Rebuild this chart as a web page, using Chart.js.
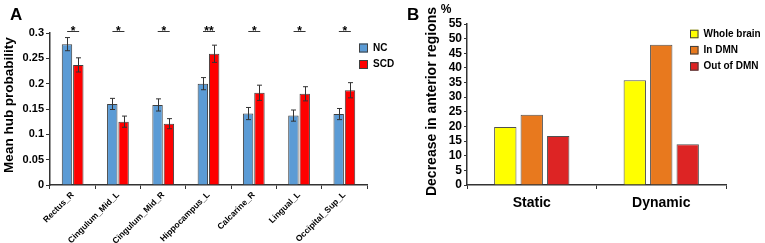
<!DOCTYPE html>
<html>
<head>
<meta charset="utf-8">
<script src="https://cdn.jsdelivr.net/npm/chart.js@4.4.0/dist/chart.umd.min.js"></script>
<style>
  html, body { margin: 0; padding: 0; background: #fff; }
  #wrap { position: relative; width: 765px; height: 243px; overflow: hidden; }
  #chartA { position: absolute; left: 0; top: 0; }
  #chartB { position: absolute; left: 390px; top: 0; }
</style>
</head>
<body>
<div id="wrap">
  <canvas id="chartA" width="400" height="243" style="width:400px;height:243px"></canvas>
  <canvas id="chartB" width="375" height="243" style="width:375px;height:243px"></canvas>
</div>
<script>
// Panel A data
const regions = ["Rectus_R", "Cingulum_Mid_L", "Cingulum_Mid_R", "Hippocampus_L", "Calcarine_R", "Lingual_L", "Occipital_Sup_L"];
const ncValues = [0.278, 0.160, 0.158, 0.200, 0.141, 0.137, 0.140];
const ncErrors = [0.013, 0.011, 0.012, 0.012, 0.012, 0.011, 0.011];
const scdValues = [0.237, 0.125, 0.121, 0.259, 0.182, 0.180, 0.187];
const scdErrors = [0.014, 0.011, 0.010, 0.017, 0.015, 0.014, 0.015];
const significance = ["*", "*", "*", "**", "*", "*", "*"];

// Panel B data
const periods = ["Static", "Dynamic"];
const wholeBrain = [19.8, 35.8];
const inDMN = [24.0, 47.9];
const outOfDMN = [16.7, 13.9];

const FONT = "'Liberation Sans', Arial, sans-serif";
Chart.defaults.font.family = FONT;
Chart.defaults.color = "#000";

// legend boxes, panel letter and axis titles
const legendPlugin = {
  id: "boxLegend",
  afterDraw(chart, args, opts) {
    const ctx = chart.ctx;
    ctx.save();
    ctx.font = "bold " + opts.size + "px " + FONT;
    ctx.textBaseline = "middle";
    opts.items.forEach((it, i) => {
      const cy = opts.y + i * opts.gap;
      ctx.fillStyle = it.color;
      ctx.fillRect(opts.x, cy - opts.box / 2, opts.box, opts.box);
      ctx.strokeStyle = "#404040";
      ctx.lineWidth = 1;
      ctx.strokeRect(opts.x + 0.5, cy - opts.box / 2 + 0.5, opts.box - 1, opts.box - 1);
      ctx.fillStyle = "#000";
      ctx.fillText(it.label, opts.x + opts.box + 5, cy);
    });
    ctx.font = "bold 17px " + FONT;
    ctx.textBaseline = "alphabetic";
    ctx.fillText(opts.panel, opts.panelX, opts.panelY);

    (opts.titles || []).forEach((t) => {
      ctx.save();
      ctx.font = "bold " + t.size + "px " + FONT;
      ctx.textAlign = "center";
      ctx.textBaseline = "alphabetic";
      ctx.translate(t.x, t.y);
      if (t.rotate) ctx.rotate(-Math.PI / 2);
      ctx.fillText(t.text, 0, 0);
      ctx.restore();
    });
    ctx.restore();
  },
};

const errorPlugin = {
  id: "errorBars",
  afterDatasetsDraw(chart) {
    const ctx = chart.ctx;
    const y = chart.scales.y;
    const errs = [ncErrors, scdErrors];
    ctx.save();
    ctx.strokeStyle = "#333";
    ctx.lineWidth = 1;
    chart.data.datasets.forEach((ds, d) => {
      chart.getDatasetMeta(d).data.forEach((bar, i) => {
        const v = ds.data[i];
        const top = y.getPixelForValue(v + errs[d][i]);
        const bot = y.getPixelForValue(v - errs[d][i]);
        const x = Math.round(bar.x) + 0.5;
        ctx.beginPath();
        ctx.moveTo(x, top); ctx.lineTo(x, bot);
        ctx.moveTo(x - 2.5, top); ctx.lineTo(x + 2.5, top);
        ctx.moveTo(x - 2.5, bot); ctx.lineTo(x + 2.5, bot);
        ctx.stroke();
      });
    });
    // significance marks
    const xs = chart.scales.x;
    const ly = Math.round(y.getPixelForValue(0.3035)) + 0.5;
    ctx.font = "bold 12px " + FONT;
    ctx.textAlign = "center";
    ctx.fillStyle = "#000";
    significance.forEach((s, i) => {
      const cx = xs.getPixelForValue(i) + 0.5;
      ctx.beginPath();
      ctx.moveTo(cx - 6, ly); ctx.lineTo(cx + 6, ly);
      ctx.stroke();
      ctx.fillText(s, cx, ly + 3.5);
    });
    ctx.restore();
  },
};

new Chart(document.getElementById("chartA"), {
  type: "bar",
  data: {
    labels: regions,
    datasets: [
      { label: "NC", data: ncValues, backgroundColor: "#5b9bd5", borderColor: "#404040", borderWidth: 1 },
      { label: "SCD", data: scdValues, backgroundColor: "#ff0000", borderColor: "#404040", borderWidth: 1 },
    ],
  },
  options: {
    responsive: false,
    animation: false,
    layout: { padding: { top: 33, right: 33, left: 0, bottom: 0 } },
    categoryPercentage: 0.5,
    barPercentage: 0.92,
    plugins: {
      legend: { display: false },
      tooltip: { enabled: false },
      boxLegend: {
        items: [{ label: "NC", color: "#5b9bd5" }, { label: "SCD", color: "#ff0000" }],
        x: 359, y: 48, gap: 16.5, box: 9, size: 10,
        panel: "A", panelX: 10, panelY: 20,
        titles: [{ text: "Mean hub probability", x: 13, y: 105, size: 13.5, rotate: true }],
      },
    },
    scales: {
      x: {
        afterFit: (s) => { s.height = 58; },
        grid: { drawOnChartArea: false, tickLength: 4, color: "#333" },
        border: { color: "#333", width: 1.5 },
        ticks: { autoSkip: false, minRotation: 45, maxRotation: 45, padding: 1, font: { size: 8.5, weight: "bold" } },
      },
      y: {
        min: 0, max: 0.3,
        afterFit: (s) => { s.width = 50; },
        grid: { drawOnChartArea: false, tickLength: 4, color: "#333" },
        border: { color: "#333", width: 1.5 },
        ticks: {
          stepSize: 0.05, padding: 2, autoSkip: false, maxTicksLimit: 20, font: { size: 11, weight: "bold" },
          callback: (v) => String(Math.round(v * 100) / 100),
        },
      },
    },
  },
  plugins: [errorPlugin, legendPlugin],
});

new Chart(document.getElementById("chartB"), {
  type: "bar",
  data: {
    labels: periods,
    datasets: [
      { label: "Whole brain", data: wholeBrain, backgroundColor: "#ffff00", borderColor: "#505050", borderWidth: 1 },
      { label: "In DMN", data: inDMN, backgroundColor: "#e8791e", borderColor: "#505050", borderWidth: 1 },
      { label: "Out of DMN", data: outOfDMN, backgroundColor: "#dd2424", borderColor: "#505050", borderWidth: 1 },
    ],
  },
  options: {
    responsive: false,
    animation: false,
    layout: { padding: { top: 24, right: 39, left: 0, bottom: 0 } },
    categoryPercentage: 0.613,
    barPercentage: 0.845,
    plugins: {
      legend: { display: false },
      tooltip: { enabled: false },
      boxLegend: {
        items: [
          { label: "Whole brain", color: "#ffff00" },
          { label: "In DMN", color: "#e8791e" },
          { label: "Out of DMN", color: "#dd2424" },
        ],
        x: 300, y: 34, gap: 16.2, box: 8.5, size: 10,
        panel: "B", panelX: 17, panelY: 20,
        titles: [
          { text: "Decrease in anterior regions", x: 46, y: 101.5, size: 14, rotate: true },
          { text: "%", x: 56, y: 12.5, size: 12, rotate: false },
        ],
      },
    },
    scales: {
      x: {
        afterFit: (s) => { s.height = 58; },
        grid: { drawOnChartArea: false, tickLength: 4, color: "#333" },
        border: { color: "#333", width: 1.5 },
        ticks: { maxRotation: 0, padding: 6, font: { size: 14, weight: "bold" } },
      },
      y: {
        min: 0, max: 55,
        afterFit: (s) => { s.width = 77; },
        grid: { drawOnChartArea: false, tickLength: 3, color: "#333" },
        border: { color: "#333", width: 1.5 },
        ticks: { stepSize: 5, padding: 2, autoSkip: false, maxTicksLimit: 20, font: { size: 12, weight: "bold", lineHeight: 1 } },
      },
    },
  },
  plugins: [legendPlugin],
});
</script>
</body>
</html>
